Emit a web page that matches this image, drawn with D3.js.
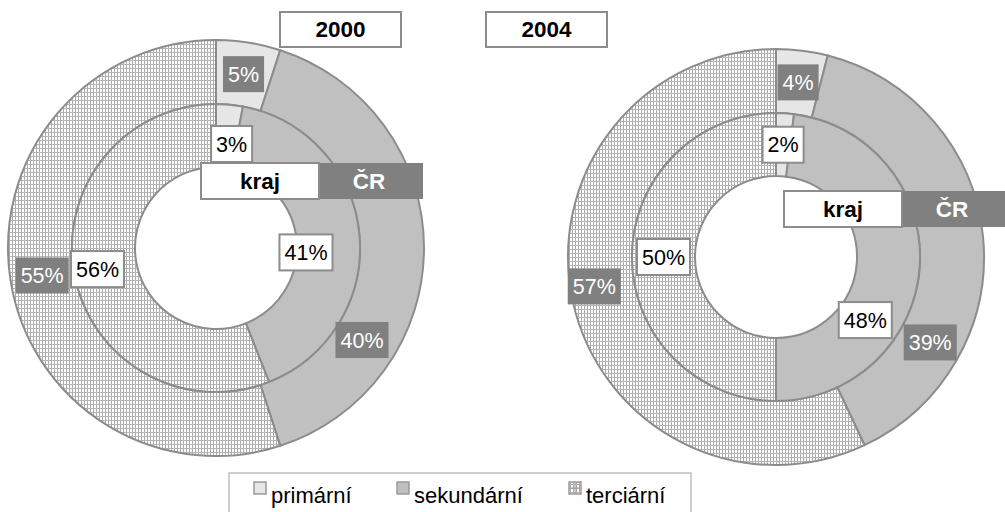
<html lang="cs">
  <head>
    <meta charset="UTF-8" />
    <title>Struktura zaměstnanosti 2000 / 2004</title>
    <script src="https://d3js.org/d3.v7.min.js"></script>
  </head>
  <style>
    body {
      margin: 0px;
      overflow: hidden;
      background: #fff;
    }
    text {
      font-family: "Liberation Sans", Arial, sans-serif;
    }
  </style>
  <body>
    <svg width="1005" height="512"></svg>
  </body>
  <footer>
    <script>
      // data
      var categories = ["primární", "sekundární", "terciární"];
      var years = ["2000", "2004"];
      var kraj2000 = [3, 41, 56];
      var cr2000 = [5, 40, 55];
      var kraj2004 = [2, 48, 50];
      var cr2004 = [4, 39, 57];
      // labels moved by hand in the original (dx, dy from slice centroid)
      var nudge2000 = { kraj: [[5, 8], [-22, 15], [-8, 0]], cr: [[0, 0], [-30, 92], [0, 0]] };
      var nudge2004 = { kraj: [[0, 0], [-23, 56], [0, 0]], cr: [[0, 0], [-21, 102], [-10, -9]] };

      var svg = d3.select("svg");
      var fills = ["#e6e6e6", "#c0c0c0", "url(#grid)"];
      var edge = "#8c8c8c";

      var defs = svg.append("defs");
      var pat = defs.append("pattern")
        .attr("id", "grid")
        .attr("patternUnits", "userSpaceOnUse")
        .attr("width", 3)
        .attr("height", 4);
      pat.append("rect").attr("width", 3).attr("height", 4).attr("fill", "#fff");
      pat.append("rect").attr("x", 0).attr("width", 1).attr("height", 4).attr("fill", "#ababab");
      pat.append("rect").attr("y", 0).attr("width", 3).attr("height", 1).attr("fill", "#b4b4b4");

      var pie = d3.pie().sort(null).value(function (d) { return d; });
      var rHole = 81, rMid = 144, rOut = 208;
      var innerArc = d3.arc().innerRadius(rHole).outerRadius(rMid);
      var outerArc = d3.arc().innerRadius(rMid).outerRadius(rOut);

      var charts = [
        { year: years[0], kraj: kraj2000, cr: cr2000, nudge: nudge2000, cx: 216, cy: 248,
          title: [280, 12], tag: [201, 163] },
        { year: years[1], kraj: kraj2004, cr: cr2004, nudge: nudge2004, cx: 776, cy: 257,
          title: [486, 12], tag: [784, 191] }
      ];

      function labelBox(g, x, y, txt, dark) {
        var t = g.append("text")
          .attr("x", x).attr("y", y + 7.5)
          .attr("text-anchor", "middle")
          .attr("font-size", 21.5)
          .attr("fill", dark ? "#fff" : "#000")
          .text(txt);
        var w = t.node().getComputedTextLength() + 10;
        g.insert("rect", function () { return t.node(); })
          .attr("x", x - w / 2).attr("y", y - 18)
          .attr("width", w).attr("height", 36)
          .attr("fill", dark ? "#808080" : "#fff")
          .attr("stroke", dark ? "none" : edge)
          .attr("stroke-width", 2);
      }

      charts.forEach(function (c) {
        var g = svg.append("g").attr("transform", `translate(${c.cx}, ${c.cy})`);

        g.selectAll("path.cr")
          .data(pie(c.cr))
          .enter()
          .append("path")
          .attr("class", "cr")
          .attr("d", outerArc)
          .attr("fill", function (d, i) { return fills[i]; })
          .attr("stroke", edge)
          .attr("stroke-width", 2);

        g.selectAll("path.kraj")
          .data(pie(c.kraj))
          .enter()
          .append("path")
          .attr("class", "kraj")
          .attr("d", innerArc)
          .attr("fill", function (d, i) { return fills[i]; })
          .attr("stroke", edge)
          .attr("stroke-width", 2);

        var lg = g.append("g");
        pie(c.cr).forEach(function (d, i) {
          var p = outerArc.centroid(d);
          labelBox(lg, p[0] + c.nudge.cr[i][0], p[1] + c.nudge.cr[i][1], d.data + "%", true);
        });
        pie(c.kraj).forEach(function (d, i) {
          var p = innerArc.centroid(d);
          labelBox(lg, p[0] + c.nudge.kraj[i][0], p[1] + c.nudge.kraj[i][1], d.data + "%", false);
        });

        // year title
        svg.append("rect")
          .attr("x", c.title[0]).attr("y", c.title[1])
          .attr("width", 121).attr("height", 35)
          .attr("fill", "#fff").attr("stroke", edge).attr("stroke-width", 2);
        svg.append("text")
          .attr("x", c.title[0] + 60.5).attr("y", c.title[1] + 25)
          .attr("text-anchor", "middle")
          .attr("font-size", 22.5).attr("font-weight", "bold")
          .text(c.year);

        // kraj / ČR tag
        var tx = c.tag[0], ty = c.tag[1];
        svg.append("rect")
          .attr("x", tx + 118).attr("y", ty)
          .attr("width", 104).attr("height", 36)
          .attr("fill", "#808080");
        svg.append("rect")
          .attr("x", tx).attr("y", ty)
          .attr("width", 118).attr("height", 36)
          .attr("fill", "#fff").attr("stroke", edge).attr("stroke-width", 2);
        svg.append("text")
          .attr("x", tx + 59).attr("y", ty + 26)
          .attr("text-anchor", "middle")
          .attr("font-size", 22.5).attr("font-weight", "bold")
          .text("kraj");
        svg.append("text")
          .attr("x", tx + 168).attr("y", ty + 26)
          .attr("text-anchor", "middle")
          .attr("font-size", 22.5).attr("font-weight", "bold")
          .attr("fill", "#fff")
          .text("ČR");
      });

      // legend
      var legend = svg.append("g");
      legend.append("rect")
        .attr("x", 229).attr("y", 473)
        .attr("width", 462).attr("height", 60)
        .attr("fill", "#fff").attr("stroke", "#bfbfbf").attr("stroke-width", 1.5);
      var legX = [254, 397, 569];
      categories.forEach(function (name, i) {
        legend.append("rect")
          .attr("x", legX[i]).attr("y", 482)
          .attr("width", 12).attr("height", 12)
          .attr("fill", fills[i]).attr("stroke", "#9a9a9a").attr("stroke-width", 1.5);
        legend.append("text")
          .attr("x", legX[i] + 17).attr("y", 503)
          .attr("font-size", 22)
          .text(name);
      });
      // bigger cell look for the grid swatch
      legend.append("line")
        .attr("x1", legX[2] + 6).attr("x2", legX[2] + 6).attr("y1", 482).attr("y2", 494)
        .attr("stroke", "#9a9a9a");
      legend.append("line")
        .attr("x1", legX[2]).attr("x2", legX[2] + 12).attr("y1", 488).attr("y2", 488)
        .attr("stroke", "#9a9a9a");
    </script>
  </footer>
</html>
